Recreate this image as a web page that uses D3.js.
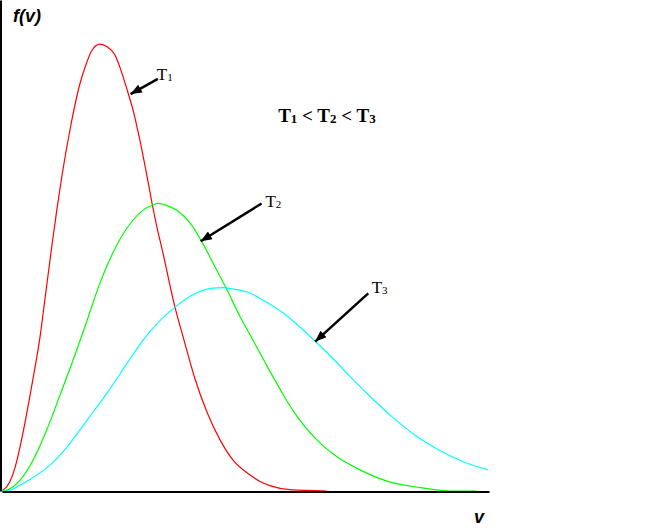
<!DOCTYPE html>
<html>
<head>
<meta charset="utf-8">
<script src="https://cdn.jsdelivr.net/npm/d3@7"></script>
<style>
  body { margin: 0; background: #fff; }
  svg { display: block; }
</style>
</head>
<body>
<svg id="chart" width="667" height="529"></svg>
<script>
'use strict';

// speeds (arbitrary units) and f(v) readings for each temperature
var t1V = [0, 0.16, 0.27, 0.37, 0.47, 0.57, 0.68, 0.78, 0.88, 1.03, 1.13, 1.23, 1.40, 1.60, 1.70, 1.85, 2.01, 2.16, 2.32, 2.42, 2.57, 2.69, 2.83, 2.98, 3.08, 3.18, 3.29, 3.55, 3.72, 3.96, 4.21, 4.48, 4.74, 5.09, 5.30, 5.50, 5.91, 6.67];
var t1F = [0, 0.02, 0.053, 0.098, 0.151, 0.209, 0.276, 0.342, 0.425, 0.550, 0.628, 0.700, 0.805, 0.905, 0.940, 0.980, 0.993, 0.987, 0.969, 0.942, 0.891, 0.847, 0.780, 0.698, 0.640, 0.587, 0.536, 0.409, 0.342, 0.250, 0.175, 0.113, 0.069, 0.036, 0.021, 0.012, 0.003, 0];

var t2V = [0, 0.10, 0.37, 0.64, 0.92, 1.19, 1.46, 1.75, 2.01, 2.28, 2.57, 2.83, 3.10, 3.20, 3.31, 3.59, 3.86, 4.11, 4.33, 4.62, 4.89, 5.15, 5.44, 5.77, 5.98, 6.47, 6.88, 7.35, 8.03, 8.64, 9.20, 9.75];
var t2F = [0, 0.002, 0.024, 0.069, 0.136, 0.213, 0.291, 0.380, 0.462, 0.530, 0.585, 0.618, 0.636, 0.639, 0.637, 0.624, 0.596, 0.553, 0.507, 0.447, 0.387, 0.336, 0.278, 0.215, 0.178, 0.113, 0.076, 0.047, 0.018, 0.007, 0, 0];

var t3V = [0, 0.10, 0.37, 0.64, 0.99, 1.33, 1.75, 2.16, 2.57, 2.90, 3.24, 3.59, 3.92, 4.33, 4.54, 4.74, 5.09, 5.36, 5.77, 6.12, 6.47, 6.88, 7.15, 7.56, 8.03, 8.52, 8.99, 9.47, 9.98];
var t3F = [0, 0, 0.013, 0.030, 0.058, 0.097, 0.158, 0.218, 0.284, 0.336, 0.378, 0.412, 0.436, 0.451, 0.452, 0.449, 0.440, 0.424, 0.396, 0.364, 0.329, 0.285, 0.254, 0.210, 0.163, 0.121, 0.090, 0.065, 0.047];

var seriesNames = ['1', '2', '3'];
var seriesColors = ['#ff0000', '#00ff00', '#00ffff'];

// arrow annotations: label anchor, arrow tail, arrow tip (v, f)
var labelAt = [[3.18, 0.913], [5.41, 0.631], [7.59, 0.439]];
var arrowFrom = [[3.20, 0.916], [5.33, 0.639], [7.52, 0.439]];
var arrowTo = [[2.64, 0.882], [4.08, 0.555], [6.43, 0.332]];

var svg = d3.select('#chart');

var x = d3.scaleLinear().domain([0, 10]).range([2, 489]);
var y = d3.scaleLinear().domain([0, 1.0911]).range([491, 0]);

var series = [[t1V, t1F], [t2V, t2F], [t3V, t3F]].map(function(s, i) {
  return {
    name: seriesNames[i],
    color: seriesColors[i],
    points: s[0].map(function(v, j) { return [v, s[1][j]]; })
  };
});

var line = d3.line()
  .x(function(d) { return x(d[0]); })
  .y(function(d) { return y(d[1]); })
  .curve(d3.curveMonotoneX);

svg.selectAll('path.curve')
  .data(series)
  .enter().append('path')
  .attr('class', 'curve')
  .attr('fill', 'none')
  .attr('stroke', function(d) { return d.color; })
  .attr('stroke-width', 1.2)
  .attr('d', function(d) { return line(d.points); });

// axes: bare lines, no ticks
svg.append('g')
  .attr('transform', 'translate(0,491.5)')
  .call(d3.axisBottom(x).ticks(0).tickSizeOuter(0));
svg.append('g')
  .attr('transform', 'translate(0.5,0)')
  .call(d3.axisRight(y).ticks(0).tickSizeOuter(0));
svg.selectAll('.domain').attr('stroke', '#000').attr('stroke-width', 2);

svg.append('defs').append('marker')
  .attr('id', 'head')
  .attr('markerUnits', 'userSpaceOnUse')
  .attr('viewBox', '0 0 10 8')
  .attr('refX', 10)
  .attr('refY', 4)
  .attr('markerWidth', 12)
  .attr('markerHeight', 9)
  .attr('orient', 'auto')
  .append('path')
  .attr('d', 'M0,0L10,4L0,8Z')
  .attr('fill', '#000');

svg.selectAll('line.arrow')
  .data(arrowFrom)
  .enter().append('line')
  .attr('class', 'arrow')
  .attr('x1', function(d) { return x(d[0]); })
  .attr('y1', function(d) { return y(d[1]); })
  .attr('x2', function(d, i) { return x(arrowTo[i][0]); })
  .attr('y2', function(d, i) { return y(arrowTo[i][1]); })
  .attr('stroke', '#000')
  .attr('stroke-width', 2.5)
  .attr('marker-end', 'url(#head)');

var labels = svg.selectAll('text.tlabel')
  .data(series)
  .enter().append('text')
  .attr('class', 'tlabel')
  .attr('x', function(d, i) { return x(labelAt[i][0]); })
  .attr('y', function(d, i) { return y(labelAt[i][1]); })
  .style('font-family', '"Liberation Serif", "Times New Roman", serif')
  .style('font-size', '17px')
  .attr('fill', '#000');
labels.append('tspan').text('T');
labels.append('tspan').attr('dy', 1).style('font-size', '11px').text(function(d) { return d.name; });

// T1 < T2 < T3
var order = svg.append('text')
  .attr('x', x(5.67))
  .attr('y', y(0.82))
  .style('font-family', '"Liberation Serif", "Times New Roman", serif')
  .style('font-size', '19px')
  .style('font-weight', 'bold')
  .attr('fill', '#000');
seriesNames.forEach(function(n, i) {
  order.append('tspan').attr('dy', i === 0 ? 0 : -1).text((i === 0 ? '' : ' < ') + 'T');
  order.append('tspan').attr('dy', 1).style('font-size', '13px').text(n);
});

svg.append('text')
  .attr('x', 13)
  .attr('y', 22)
  .style('font-family', '"Liberation Sans", Arial, sans-serif')
  .style('font-size', '18px')
  .style('font-weight', 'bold')
  .style('font-style', 'italic')
  .text('f(v)');

svg.append('text')
  .attr('x', 474)
  .attr('y', 523)
  .style('font-family', '"Liberation Sans", Arial, sans-serif')
  .style('font-size', '18px')
  .style('font-weight', 'bold')
  .style('font-style', 'italic')
  .text('v');
</script>
</body>
</html>
